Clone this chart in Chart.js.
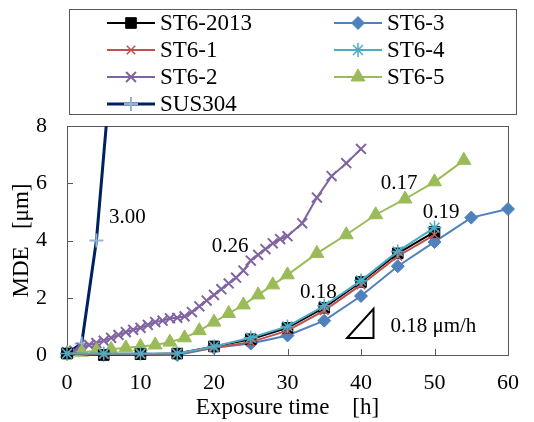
<!DOCTYPE html>
<html>
<head>
<meta charset="utf-8">
<script src="https://cdn.jsdelivr.net/npm/chart.js@4/dist/chart.umd.min.js"></script>
<style>
  html, body { margin: 0; padding: 0; background: #fff; }
  #chart { display: block; }
</style>
</head>
<body>
<canvas id="chart" width="534" height="422"></canvas>
<script>
// Data (exposure time [h] vs MDE [um])
const t5 = [0, 5, 10, 15, 20, 25, 30, 35, 40, 45, 50];
const st62013 = [0.05, 0.0, 0.03, 0.05, 0.3, 0.55, 0.95, 1.65, 2.55, 3.55, 4.3];
const st61 = [0.05, 0.02, 0.03, 0.05, 0.25, 0.45, 0.85, 1.55, 2.45, 3.45, 4.2];
const st64 = [0.05, 0.05, 0.05, 0.05, 0.3, 0.6, 1.0, 1.72, 2.6, 3.62, 4.45];

const t63 = [0, 5, 10, 15, 20, 25, 30, 35, 40, 45, 50, 55, 60];
const st63 = [0.05, 0.0, 0.05, 0.0, 0.25, 0.4, 0.68, 1.2, 2.06, 3.1, 3.95, 4.8, 5.1];

const t62 = [0, 1, 2, 3, 4, 5, 6, 7, 8, 9, 10, 11, 12, 13, 14, 15, 16, 17, 18, 19, 20,
  21, 22, 23, 24, 25, 26, 27, 28, 29, 30, 32, 34, 36, 38, 40];
const st62 = [0.1, 0.15, 0.25, 0.35, 0.42, 0.5, 0.6, 0.7, 0.8, 0.88, 0.95, 1.05, 1.15, 1.2, 1.28, 1.3, 1.35, 1.5, 1.7, 1.9, 2.1,
  2.3, 2.5, 2.7, 2.95, 3.3, 3.5, 3.7, 3.9, 4.05, 4.15, 4.6, 5.5, 6.25, 6.7, 7.2];

const t65 = [0, 2, 4, 6, 8, 10, 12, 14, 16, 18, 20, 22, 24, 26, 28, 30, 34, 38, 42, 46, 50, 54];
const st65 = [0.05, 0.1, 0.15, 0.2, 0.25, 0.3, 0.35, 0.45, 0.6, 0.85, 1.15, 1.45, 1.75, 2.1, 2.45, 2.8, 3.55, 4.2, 4.9, 5.45, 6.05, 6.8];

const tSus = [0, 2, 4, 6];
const sus304 = [0.05, 0.4, 4.0, 10.0];

const xTicks = [0, 10, 20, 30, 40, 50, 60];
const yTicks = [0, 2, 4, 6, 8];

// slope labels, placed in data units
const notes = [
  { text: '3.00', x: 5.7, y: 4.8 },
  { text: '0.26', x: 19.7, y: 3.8 },
  { text: '0.17', x: 42.7, y: 6.0 },
  { text: '0.19', x: 48.4, y: 4.97 },
  { text: '0.18', x: 31.7, y: 2.2 },
  { text: '0.18 μm/h', x: 44.0, y: 0.98 }
];
const slopeTri = [[38.1, 0.59], [41.7, 0.59], [41.7, 1.61]];

const FONT = '"Liberation Serif", "Times New Roman", serif';

function pts(xs, ys) {
  return xs.map((x, i) => ({ x: x, y: ys[i] }));
}

const datasets = [
  { label: 'ST6-2013', data: pts(t5, st62013), borderColor: '#000000', backgroundColor: '#000000',
    pointStyle: 'rect', pointRadius: 7.5, borderWidth: 2, pointBorderWidth: 1, order: 3 },
  { label: 'ST6-3', data: pts(t63, st63), borderColor: '#4F81BD', backgroundColor: '#4F81BD',
    pointStyle: 'rectRot', pointRadius: 6.5, borderWidth: 2, pointBorderWidth: 1, order: 4 },
  { label: 'ST6-1', data: pts(t5, st61), borderColor: '#C0504D', backgroundColor: '#C0504D',
    pointStyle: 'crossRot', pointRadius: 6, borderWidth: 2, pointBorderWidth: 1.5, order: 2 },
  { label: 'ST6-4', data: pts(t5, st64), borderColor: '#4BACC6', backgroundColor: '#4BACC6',
    pointStyle: 'star', pointRadius: 7, borderWidth: 2, pointBorderWidth: 1.5, order: 1 },
  { label: 'ST6-2', data: pts(t62, st62), borderColor: '#8064A2', backgroundColor: '#8064A2',
    pointStyle: 'crossRot', pointRadius: 7, borderWidth: 2, pointBorderWidth: 2, order: 6 },
  { label: 'ST6-5', data: pts(t65, st65), borderColor: '#9BBB59', backgroundColor: '#9BBB59',
    pointStyle: 'triangle', pointRadius: 8, borderWidth: 2, pointBorderWidth: 1, order: 5 },
  { label: 'SUS304', data: pts(tSus, sus304), borderColor: '#002060', backgroundColor: '#95B3D7',
    pointBorderColor: '#95B3D7', pointStyle: 'cross', pointRadius: 7, borderWidth: 3, pointBorderWidth: 2,
    order: 7, clip: { left: 10, top: 0, right: 10, bottom: 10 } }
];
datasets.forEach(d => {
  d.fill = false;
  d.tension = 0;
  if (!d.pointBorderColor) d.pointBorderColor = d.borderColor;
  d.pointBackgroundColor = d.backgroundColor;
  if (!d.clip) d.clip = false;
});

// legend cells: [label, column, row]
const legendCells = [
  ['ST6-2013', 0, 0], ['ST6-3', 1, 0],
  ['ST6-1', 0, 1], ['ST6-4', 1, 1],
  ['ST6-2', 0, 2], ['ST6-5', 1, 2],
  ['SUS304', 0, 3]
];

function drawMarker(ctx, ds, x, y) {
  ctx.save();
  ctx.fillStyle = ds.pointBackgroundColor;
  ctx.strokeStyle = ds.pointBorderColor;
  ctx.lineWidth = ds.pointBorderWidth;
  if (Chart.helpers && Chart.helpers.drawPoint) {
    Chart.helpers.drawPoint(ctx, { pointStyle: ds.pointStyle, radius: ds.pointRadius, rotation: 0,
      borderWidth: ds.pointBorderWidth }, x, y);
  }
  ctx.restore();
}

const framePlugin = {
  id: 'frame',
  beforeDatasetsDraw(chart) {
    const { ctx, chartArea: a, scales } = chart;
    ctx.save();
    ctx.strokeStyle = '#595959';
    ctx.lineWidth = 1;
    ctx.strokeRect(a.left + 0.5, a.top + 0.5, a.right - a.left, a.bottom - a.top);
    ctx.beginPath();
    yTicks.forEach(v => {
      const py = Math.round(scales.y.getPixelForValue(v)) + 0.5;
      ctx.moveTo(a.left, py);
      ctx.lineTo(a.left + 6, py);
    });
    xTicks.forEach(v => {
      const px = Math.round(scales.x.getPixelForValue(v)) + 0.5;
      ctx.moveTo(px, a.bottom);
      ctx.lineTo(px, a.bottom - 6);
    });
    ctx.stroke();
    ctx.restore();
  },
  afterDraw(chart) {
    const { ctx, scales } = chart;
    ctx.save();
    // slope notes
    ctx.fillStyle = '#000';
    ctx.font = '21px ' + FONT;
    ctx.textAlign = 'left';
    ctx.textBaseline = 'middle';
    notes.forEach(n => {
      ctx.fillText(n.text, scales.x.getPixelForValue(n.x), scales.y.getPixelForValue(n.y));
    });
    ctx.beginPath();
    slopeTri.forEach((p, i) => {
      const px = scales.x.getPixelForValue(p[0]);
      const py = scales.y.getPixelForValue(p[1]);
      if (i === 0) ctx.moveTo(px, py); else ctx.lineTo(px, py);
    });
    ctx.closePath();
    ctx.strokeStyle = '#000';
    ctx.lineWidth = 2;
    ctx.stroke();

    // legend box
    ctx.strokeStyle = '#595959';
    ctx.lineWidth = 1;
    ctx.strokeRect(69.5, 9.5, 447, 105);
    ctx.font = '23px ' + FONT;
    const colX = [107, 334];
    legendCells.forEach(c => {
      const ds = chart.data.datasets.find(d => d.label === c[0]);
      const x0 = colX[c[1]];
      const y = 23 + c[2] * 27;
      ctx.strokeStyle = ds.borderColor;
      ctx.lineWidth = ds.borderWidth;
      ctx.beginPath();
      ctx.moveTo(x0, y);
      ctx.lineTo(x0 + 48, y);
      ctx.stroke();
      drawMarker(ctx, ds, x0 + 24, y);
      ctx.fillStyle = '#000';
      ctx.fillText(c[0], x0 + 53, y + 1);
    });
    ctx.restore();
  }
};

new Chart(document.getElementById('chart'), {
  type: 'line',
  data: { datasets: datasets },
  options: {
    responsive: false,
    animation: false,
    devicePixelRatio: 1,
    layout: { padding: { top: 126, right: 17, left: 0, bottom: 0 } },
    plugins: { legend: { display: false }, tooltip: { enabled: false } },
    scales: {
      x: {
        type: 'linear', min: 0, max: 60,
        afterFit: s => { s.height = 67; },
        afterBuildTicks: s => { s.ticks = xTicks.map(v => ({ value: v })); },
        grid: { display: false, drawTicks: false },
        border: { display: false },
        ticks: { color: '#000', padding: 15, font: { family: FONT, size: 22 } },
        title: { display: true, text: 'Exposure time    [h]', color: '#000',
          font: { family: FONT, size: 23 }, padding: { top: 0, bottom: 0 } }
      },
      y: {
        type: 'linear', min: 0, max: 8,
        afterFit: s => { s.width = 67; },
        afterBuildTicks: s => { s.ticks = yTicks.map(v => ({ value: v })); },
        grid: { display: false, drawTicks: false },
        border: { display: false },
        ticks: { color: '#000', padding: 20, font: { family: FONT, size: 22 } },
        title: { display: true, text: 'MDE   [μm]', color: '#000',
          font: { family: FONT, size: 23 }, padding: { top: 8, bottom: 0 } }
      }
    }
  },
  plugins: [framePlugin]
});
</script>
</body>
</html>
